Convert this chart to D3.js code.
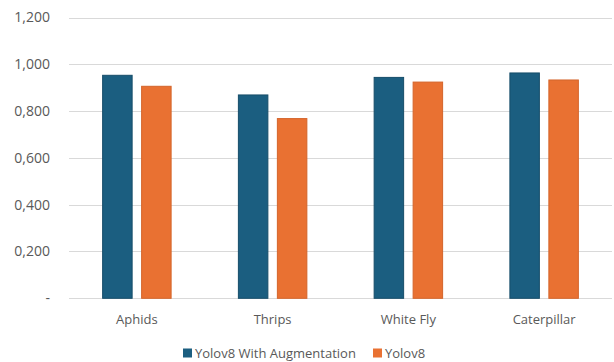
<!DOCTYPE html>
<html>
<head>
<meta charset="utf-8">
<script src="https://cdn.jsdelivr.net/npm/d3@7"></script>
<style>
  body { margin: 0; background: #fff; }
  svg text { font-family: "Open Sans", "Liberation Sans", sans-serif; fill: #595959; }
</style>
</head>
<body>
<div id="grafico"></div>
<script>
// dados do grafico
var categorias = ["Aphids", "Thrips", "White Fly", "Caterpillar"];
var series = ["Yolov8 With Augmentation", "Yolov8"];
var valoresAug = [0.953, 0.869, 0.944, 0.963];
var valoresYolo = [0.906, 0.768, 0.924, 0.933];
var ticksY = [0, 0.2, 0.4, 0.6, 0.8, 1.0, 1.2];

var cores = ["#1b5e80", "#e97132"];
var bordas = ["#164d69", "#d4642a"];

var largura = 614, altura = 362;
var margem = { top: 17.5, right: 2, bottom: 64, left: 69 };

var svg = d3.select("#grafico")
    .append("svg")
    .attr("width", largura)
    .attr("height", altura);

var x = d3.scaleBand()
    .domain(categorias)
    .range([margem.left, largura - margem.right])
    .paddingInner(0)
    .paddingOuter(0);

var xSerie = d3.scaleBand()
    .domain(series)
    .range([0, x.bandwidth()])
    .paddingInner(0.218)
    .paddingOuter(0.85);

var y = d3.scaleLinear()
    .domain([0, 1.2])
    .range([altura - margem.bottom + 0.3, margem.top]);

// linhas de grade
svg.append("g")
    .selectAll("line")
    .data(ticksY)
    .enter()
    .append("line")
    .attr("x1", margem.left)
    .attr("x2", largura - margem.right)
    .attr("y1", function(d) { return Math.round(y(d)) + 0.5; })
    .attr("y2", function(d) { return Math.round(y(d)) + 0.5; })
    .attr("stroke", "#d9d9d9")
    .attr("stroke-width", 1);

// rotulos do eixo y
svg.append("g")
    .selectAll("text")
    .data(ticksY)
    .enter()
    .append("text")
    .attr("x", 50)
    .attr("y", function(d) { return y(d); })
    .attr("dy", "0.35em")
    .attr("text-anchor", "end")
    .style("font-size", "14px")
    .text(function(d) {
        if (d === 0) return "-";
        // 1.200 -> 1,200 ; 0.800 -> 0,800
        return d3.format(".3f")(d).replace(".", ",");
    });

// barras
var dados = categorias.map(function(c, i) {
    return { categoria: c, valores: [valoresAug[i], valoresYolo[i]] };
});

var grupos = svg.append("g")
    .selectAll("g")
    .data(dados)
    .enter()
    .append("g")
    .attr("transform", function(d) { return "translate(" + x(d.categoria) + ",0)"; });

grupos.selectAll("rect")
    .data(function(d) {
        return d.valores.map(function(v, j) { return { serie: series[j], valor: v, j: j }; });
    })
    .enter()
    .append("rect")
    .attr("x", function(d) { return xSerie(d.serie) + 0.5; })
    .attr("y", function(d) { return y(d.valor); })
    .attr("width", xSerie.bandwidth() - 1)
    .attr("height", function(d) { return y(0) - y(d.valor); })
    .attr("fill", function(d) { return cores[d.j]; })
    .attr("stroke", function(d) { return bordas[d.j]; })
    .attr("stroke-width", 1);

// rotulos das categorias
svg.append("g")
    .selectAll("text")
    .data(categorias)
    .enter()
    .append("text")
    .attr("x", function(d) { return x(d) + x.bandwidth() / 2; })
    .attr("y", 319)
    .attr("dy", "0.35em")
    .attr("text-anchor", "middle")
    .style("font-size", "13px")
    .text(function(d) { return d; });

// legenda
var posLegenda = [183, 373];
var legenda = svg.append("g")
    .selectAll("g")
    .data(series)
    .enter()
    .append("g")
    .attr("transform", function(d, i) { return "translate(" + posLegenda[i] + ",348.5)"; });

legenda.append("rect")
    .attr("width", 9)
    .attr("height", 9)
    .attr("fill", function(d, i) { return cores[i]; });

legenda.append("text")
    .attr("x", 12)
    .attr("y", 4.5)
    .attr("dy", "0.35em")
    .style("font-size", "13px")
    .text(function(d) { return d; });
</script>
</body>
</html>
